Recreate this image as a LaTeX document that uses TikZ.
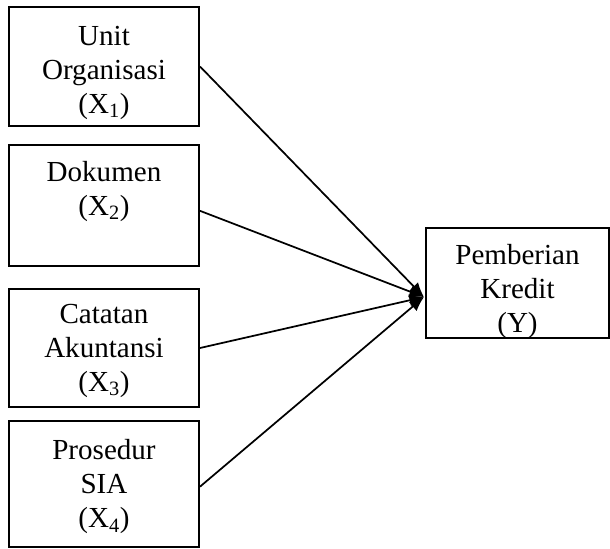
\documentclass[tikz,border=0pt]{standalone}
\usepackage{fontspec}
\setmainfont{Liberation Serif}
\usetikzlibrary{arrows.meta,positioning}

\tikzset{
    varbox/.style={draw, line width=1.5pt, minimum width=#1, inner sep=0pt},
    vartext/.style={align=center, inner sep=0pt, anchor=north,
        font=\fontsize{21.8}{25.5}\selectfont},
    link/.style={line width=1.3pt, -{Latex[length=11pt,width=9pt]}}
}

\begin{document}
\begin{tikzpicture}[x=0.75pt, y=-0.75pt]
    \useasboundingbox (0,0) rectangle (610,549);

    % the four variables X on the left
    \node[varbox=142.5pt, minimum height=89.25pt] (x1) at (104,66.5) {};
    \node[varbox=142.5pt, minimum height=90.75pt] (x2) at (104,205.5) {};
    \node[varbox=142.5pt, minimum height=88.5pt]  (x3) at (104,348) {};
    \node[varbox=142.5pt, minimum height=94.5pt]  (x4) at (104,484) {};
    % the variable Y on the right
    \node[varbox=137.25pt, minimum height=82.5pt] (y) at (517.5,283) {};

    \node[vartext, below=15pt of x1.north]   (t1) {Unit\\Organisasi\\(X\textsubscript{1})};
    \node[vartext, below=12.6pt of x2.north] (t2) {Dokumen\\(X\textsubscript{2})};
    \node[vartext, below=11.8pt of x3.north] (t3) {Catatan\\Akuntansi\\(X\textsubscript{3})};
    \node[vartext, below=14.6pt of x4.north] (t4) {Prosedur\\SIA\\(X\textsubscript{4})};
    \node[vartext, below=12.6pt of y.north]  (ty) {Pemberian\\Kredit\\(Y)};

    \coordinate (tip) at (424,297);
    \draw[link] (x1.east) -- (tip);
    \draw[link] ([yshift=-4pt]x2.east) -- (tip);
    \draw[link] (x3.east) -- (tip);
    \draw[link] ([yshift=-2pt]x4.east) -- (tip);
\end{tikzpicture}
\end{document}
